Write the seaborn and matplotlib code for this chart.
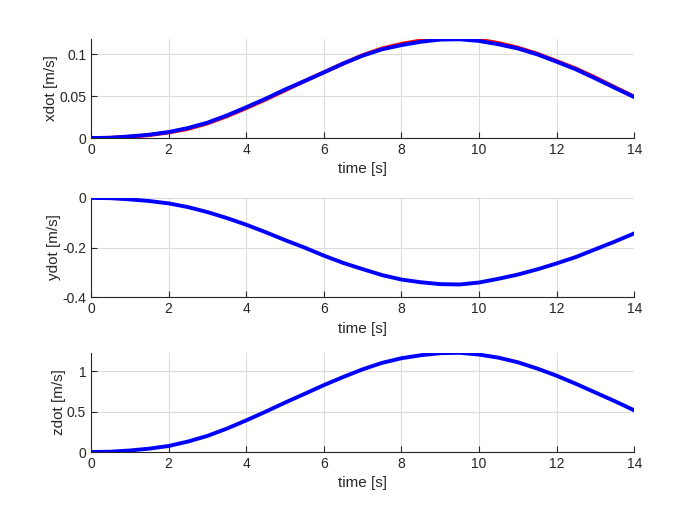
import matplotlib
matplotlib.use("Agg")
import matplotlib.pyplot as plt
import seaborn as sns
import pandas as pd

# tiempo de simulacion
t = [0, 0.5, 1, 1.5, 2, 2.5, 3, 3.5, 4, 4.5, 5, 5.5, 6, 6.5, 7, 7.5,
     8, 8.5, 9, 9.5, 10, 10.5, 11, 11.5, 12, 12.5, 13, 13.5, 14]

# velocidades (azul = simulado, rojo = referencia)
xdot_ref = [0, 0.0003, 0.0016, 0.0036, 0.0066, 0.011, 0.0175, 0.026, 0.0358,
            0.046, 0.057, 0.068, 0.0785, 0.089, 0.099, 0.107, 0.1125, 0.1165,
            0.1188, 0.1192, 0.1175, 0.1135, 0.108, 0.1008, 0.092, 0.083,
            0.0722, 0.0608, 0.0495]
xdot = [0, 0.0004, 0.002, 0.004, 0.0072, 0.012, 0.0184, 0.027, 0.0368,
        0.047, 0.058, 0.068, 0.0784, 0.089, 0.0984, 0.106, 0.111, 0.115,
        0.1176, 0.118, 0.116, 0.112, 0.107, 0.100, 0.0912, 0.082, 0.0712,
        0.060, 0.049]
ydot = [0, -0.001, -0.006, -0.0125, -0.022, -0.037, -0.057, -0.081, -0.108,
        -0.138, -0.170, -0.2, -0.2325, -0.262, -0.287, -0.311, -0.329, -0.34,
        -0.3475, -0.349, -0.341, -0.326, -0.309, -0.288, -0.264, -0.238,
        -0.207, -0.176, -0.143]
zdot = [0, 0.004, 0.019, 0.042, 0.075, 0.13, 0.2, 0.29, 0.392, 0.5,
        0.6125, 0.72, 0.829, 0.93, 1.025, 1.105, 1.1625, 1.2, 1.225, 1.23,
        1.208, 1.17, 1.1125, 1.035, 0.946, 0.845, 0.7375, 0.63, 0.517]

df = pd.DataFrame({"t": t, "xdot_ref": xdot_ref, "xdot": xdot, "ydot": ydot, "zdot": zdot})

sns.set_style("white")
plt.rcParams["font.family"] = ["Liberation Sans", "DejaVu Sans"]
plt.rcParams["axes.unicode_minus"] = False

fig = plt.figure(figsize=(7, 5.25), dpi=100)
left, width = 0.13, 0.776
bottoms = [0.737, 0.434, 0.139]
height = 0.189

paneles = [
    ("xdot [m/s]", "xdot", (0, 0.1185), [0, 0.05, 0.1], ["0", "0.05", "0.1"]),
    ("ydot [m/s]", "ydot", (-0.4, 0), [-0.4, -0.2, 0], ["-0.4", "-0.2", "0"]),
    ("zdot [m/s]", "zdot", (0, 1.23), [0, 0.5, 1], ["0", "0.5", "1"]),
]

dark = "#262626"
for b, (lab, col, ylim, yt, ytl) in zip(bottoms, paneles):
    ax = fig.add_axes([left, b, width, height])
    if col == "xdot":
        sns.lineplot(x="t", y="xdot_ref", data=df, ax=ax, color="red", linewidth=2.8)
    sns.lineplot(x="t", y=col, data=df, ax=ax, color="blue", linewidth=2.8)
    ax.set_xlim(0, 14)
    ax.set_ylim(*ylim)
    ax.set_xticks([0, 2, 4, 6, 8, 10, 12, 14])
    ax.set_yticks(yt)
    ax.set_yticklabels(ytl)
    ax.set_xlabel("time [s]", fontsize=11, color=dark)
    ax.set_ylabel(lab, fontsize=11, color=dark, labelpad=1)
    ax.grid(True, color="#dcdcdc", linewidth=0.8)
    ax.set_axisbelow(True)
    sns.despine(ax=ax)
    for s in ["left", "bottom"]:
        ax.spines[s].set_color(dark)
        ax.spines[s].set_linewidth(0.8)
    ax.tick_params(direction="in", length=4, width=0.8, colors=dark,
                   labelsize=10, left=True, bottom=True)

fig.savefig("out.png", dpi=100)
